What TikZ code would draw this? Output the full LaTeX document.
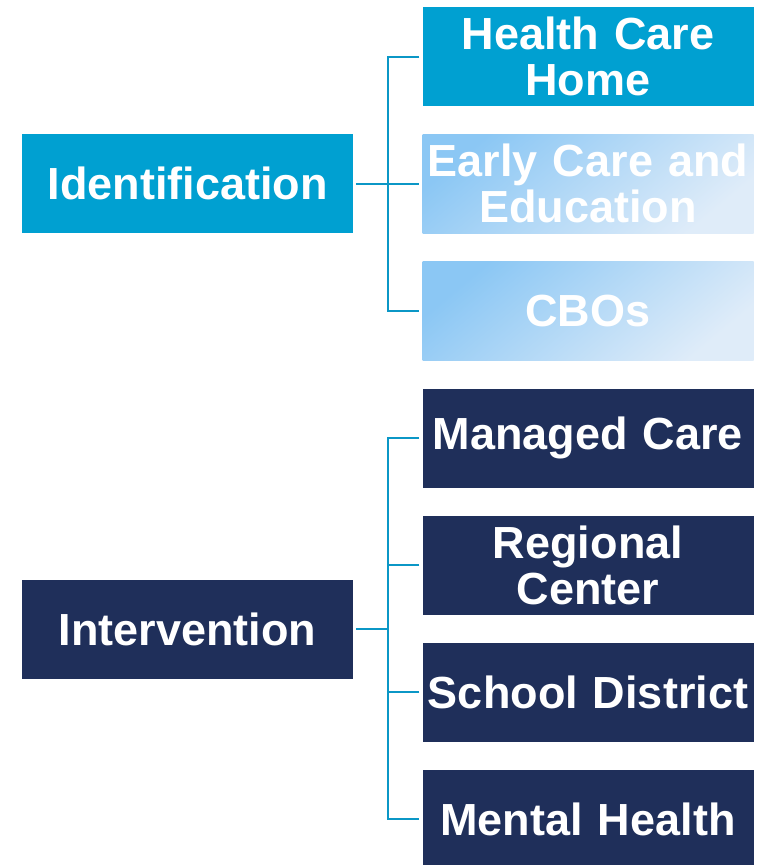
\documentclass[tikz,border=0pt]{standalone}
\usepackage{fontspec}
\setmainfont{Liberation Sans}
\definecolor{idblue}{HTML}{00A0D1}
\definecolor{navy}{HTML}{1F2F5A}
\definecolor{lightA}{HTML}{8BC7F4}
\definecolor{lightB}{HTML}{DFECF9}
\definecolor{connc}{HTML}{0B97C6}
\tikzset{
  boxbase/.style={rectangle, inner sep=0pt, minimum width=331pt, minimum height=99pt,
    text width=331pt, align=center, text=white,
    font=\fontsize{45}{46}\selectfont\bfseries},
  idbox/.style={boxbase, fill=idblue},
  navybox/.style={boxbase, fill=navy},
  lightbox/.style={boxbase, top color=lightA, bottom color=lightB, shading angle=40},
  conn/.style={draw=connc, line width=2pt}
}
\begin{document}
\begin{tikzpicture}[x=1pt,y=-1pt]
\useasboundingbox (0,0) rectangle (761,865);
% left boxes
\node[idbox] (id) at (187.5,183.5) {Identification};
\node[navybox] (iv) at (187.5,629) {Intervention};
% right boxes
\node[idbox] (hch) at (588,56.5) {Health Care\\Home};
\node[lightbox] (ece) at (588,183.5) {Early Care and\\Education};
\node[lightbox] (cbo) at (588,311) {CBOs};
\node[navybox] (mc) at (588,438) {Managed Care};
\node[navybox] (rc) at (588,565) {Regional\\Center};
\node[navybox] (sd) at (588,692) {School District};
\node[navybox] (mh) at (588,819) {Mental Health};
% junctions
\coordinate (jA) at (388,183.5);
\coordinate (jB) at (388,629);
% connectors
\draw[conn] ([xshift=3pt]id.east) -- ([xshift=-3pt]ece.west);
\draw[conn] ([xshift=-3pt]hch.west) -| (jA) |- ([xshift=-3pt]cbo.west);
\draw[conn] ([xshift=3pt]iv.east) -- (jB);
\draw[conn] ([xshift=-3pt]mc.west) -| (jB) |- ([xshift=-3pt]mh.west);
\draw[conn] ([xshift=-3pt]rc.west) -- (jB |- rc.west);
\draw[conn] ([xshift=-3pt]sd.west) -- (jB |- sd.west);
\end{tikzpicture}
\end{document}
